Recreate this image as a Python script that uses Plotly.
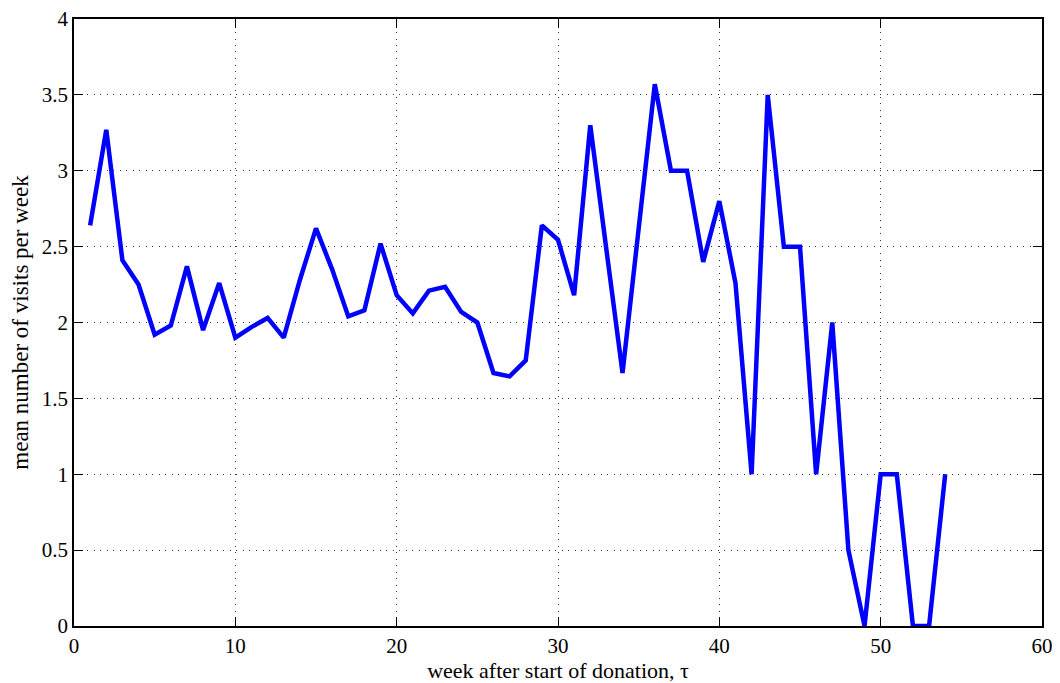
import plotly.graph_objects as go

weeks = list(range(1, 55))
mean_visits = [
    2.64, 3.27, 2.41, 2.25, 1.92, 1.98, 2.37, 1.95, 2.26, 1.90,
    1.97, 2.03, 1.90, 2.28, 2.62, 2.35, 2.04, 2.08, 2.52, 2.18,
    2.06, 2.21, 2.235, 2.07, 2.00, 1.667, 1.645, 1.75, 2.64, 2.545,
    2.18, 3.30, 2.48, 1.667, 2.62, 3.57, 3.0, 3.0, 2.40, 2.80,
    2.26, 1.0, 3.5, 2.5, 2.5, 1.0, 2.0, 0.5, 0.0, 1.0,
    1.0, 0.0, 0.0, 1.0,
]
x_ticks = [0, 10, 20, 30, 40, 50, 60]
y_ticks = [0, 0.5, 1, 1.5, 2, 2.5, 3, 3.5, 4]
y_tick_labels = ["0", "0.5", "1", "1.5", "2", "2.5", "3", "3.5", "4"]

font_family = "Liberation Serif, Times New Roman, serif"

fig = go.Figure()
fig.add_trace(go.Scatter(
    x=weeks, y=mean_visits, mode="lines",
    line=dict(color="#0000ff", width=4.5),
    showlegend=False,
))

axis_common = dict(
    showline=True, linecolor="black", linewidth=1.5, mirror="ticks",
    ticks="inside", ticklen=9, tickcolor="black", tickwidth=1,
    showgrid=True, gridcolor="rgba(0,0,0,0.8)", griddash="1px,5.5px", gridwidth=1,
    zeroline=False, automargin=False, ticklabeloverflow="allow",
    tickfont=dict(family=font_family, size=21, color="black"),
)

fig.update_xaxes(
    range=[0, 60], tickvals=x_ticks, ticktext=[str(t) for t in x_ticks],
    title=dict(text="week after start of donation, τ",
               font=dict(family=font_family, size=22, color="black"), standoff=0),
    **axis_common,
)
fig.update_yaxes(
    range=[0, 4], tickvals=y_ticks, ticktext=y_tick_labels,
    title=dict(text="mean number of visits per week",
               font=dict(family=font_family, size=23, color="black"), standoff=8),
    **axis_common,
)

fig.update_layout(
    width=1052, height=675,
    margin=dict(l=66, r=18, t=11, b=57),
    paper_bgcolor="white", plot_bgcolor="white",
)

fig.write_html("out.html")
